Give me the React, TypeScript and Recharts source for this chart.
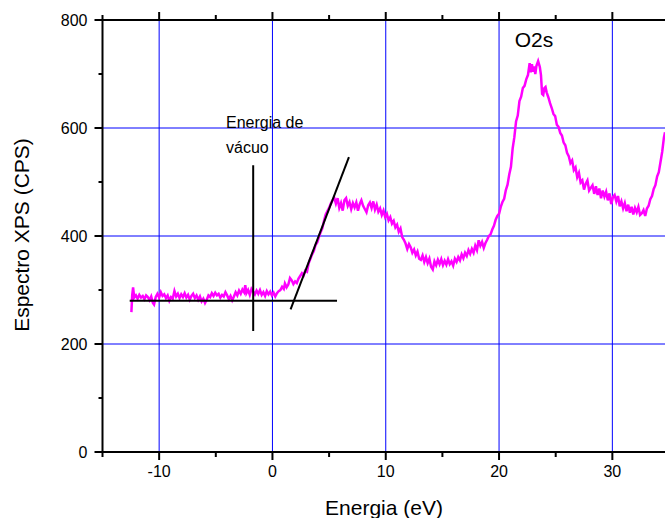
import React from "react"
import { LineChart, Line, XAxis, YAxis, ReferenceLine } from "recharts"

const energy = [
  -12.45, -12.38, -12.3, -12.2, -12.05, -11.9, -11.75, -11.6, -11.45, -11.3, -11.15, -11.0, -10.85, -10.7, -10.55, -10.45,
  -10.3, -10.15, -10.0, -9.85, -9.7, -9.55, -9.4, -9.25, -9.1, -8.95, -8.8, -8.65, -8.5, -8.35, -8.2, -8.05,
  -7.9, -7.75, -7.6, -7.45, -7.3, -7.15, -7.0, -6.85, -6.7, -6.55, -6.4, -6.25, -6.1, -5.95, -5.8, -5.65,
  -5.5, -5.35, -5.2, -5.05, -4.9, -4.75, -4.6, -4.45, -4.3, -4.15, -4.0, -3.85, -3.7, -3.55, -3.4, -3.25,
  -3.1, -2.95, -2.8, -2.65, -2.5, -2.4, -2.3, -2.15, -2.0, -1.85, -1.7, -1.55, -1.4, -1.25, -1.1, -0.95,
  -0.8, -0.65, -0.5, -0.35, -0.2, -0.05, 0.1, 0.25, 0.4, 0.55, 0.7, 0.85, 1.0, 1.1, 1.25, 1.4,
  1.55, 1.7, 1.85, 2.0, 2.15, 2.3, 2.45, 2.6, 2.75, 2.9, 3.05, 3.2, 3.35, 3.5, 3.65, 3.8,
  3.95, 4.1, 4.25, 4.4, 4.55, 4.7, 4.85, 5.0, 5.15, 5.3, 5.45, 5.6, 5.75, 5.9, 6.05, 6.2,
  6.35, 6.5, 6.65, 6.8, 6.95, 7.1, 7.25, 7.4, 7.55, 7.7, 7.85, 8.0, 8.15, 8.3, 8.45, 8.6,
  8.75, 8.9, 9.05, 9.2, 9.35, 9.5, 9.65, 9.8, 9.95, 10.1, 10.25, 10.4, 10.55, 10.7, 10.85, 11.0,
  11.15, 11.3, 11.45, 11.6, 11.75, 11.9, 12.05, 12.2, 12.35, 12.5, 12.65, 12.8, 12.95, 13.1, 13.25, 13.4,
  13.55, 13.7, 13.85, 14.0, 14.15, 14.3, 14.45, 14.6, 14.75, 14.9, 15.05, 15.2, 15.35, 15.5, 15.65, 15.8,
  15.95, 16.1, 16.25, 16.4, 16.55, 16.7, 16.85, 17.0, 17.15, 17.3, 17.45, 17.6, 17.75, 17.9, 18.05, 18.2,
  18.35, 18.5, 18.65, 18.8, 18.95, 19.1, 19.25, 19.4, 19.55, 19.7, 19.85, 20.0, 20.15, 20.3, 20.45, 20.6,
  20.75, 20.9, 21.05, 21.2, 21.35, 21.5, 21.65, 21.8, 21.95, 22.1, 22.25, 22.4, 22.55, 22.7, 22.8, 22.9,
  23.0, 23.1, 23.2, 23.3, 23.45, 23.6, 23.7, 23.8, 23.9, 24.0, 24.1, 24.2, 24.35, 24.5, 24.65, 24.8,
  24.95, 25.1, 25.25, 25.4, 25.55, 25.7, 25.85, 26.0, 26.15, 26.3, 26.45, 26.6, 26.75, 26.9, 27.05, 27.2,
  27.35, 27.5, 27.65, 27.8, 27.95, 28.1, 28.25, 28.4, 28.55, 28.7, 28.85, 29.0, 29.15, 29.3, 29.45, 29.6,
  29.75, 29.9, 30.05, 30.2, 30.35, 30.5, 30.65, 30.8, 30.95, 31.1, 31.25, 31.4, 31.55, 31.7, 31.85, 32.0,
  32.15, 32.3, 32.45, 32.6, 32.75, 32.9, 33.05, 33.2, 33.35, 33.5, 33.65, 33.8, 33.95, 34.1, 34.25, 34.4,
  34.55, 34.65,
]

const cps = [
  259, 290, 305, 286, 290, 284, 291, 286, 289, 283, 290, 287, 281, 288, 276, 273,
  287, 293, 286, 296, 289, 292, 285, 290, 280, 287, 284, 298, 288, 293, 285, 292,
  287, 294, 286, 291, 282, 289, 293, 285, 290, 282, 288, 279, 284, 276, 282, 290,
  287, 294, 289, 295, 290, 293, 286, 291, 288, 296, 290, 283, 289, 281, 288, 296,
  290, 299, 293, 301, 296, 309, 294, 300, 291, 302, 297, 292, 299, 293, 300, 291,
  296, 289, 298, 292, 297, 290, 295, 288, 294, 298, 300, 306, 302, 312, 305, 310,
  322, 318, 311, 316, 313, 321, 326, 331, 327, 336, 334, 350, 358, 366, 372, 383,
  388, 398, 407, 414, 428, 440, 446, 452, 460, 466, 471, 460, 470, 452, 461, 447,
  466, 470, 456, 463, 450, 461, 453, 462, 447, 459, 466, 456, 450, 444, 457, 462,
  452, 464, 449, 458, 445, 451, 439, 447, 435, 441, 429, 435, 423, 428, 416, 421,
  408, 414, 398, 393, 386, 376, 385, 379, 369, 375, 364, 371, 358, 356, 364, 352,
  361, 350, 358, 343, 338, 353, 346, 356, 348, 357, 346, 354, 347, 357, 348, 353,
  345, 358, 352, 361, 355, 366, 359, 369, 363, 374, 367, 376, 369, 382, 374, 392,
  382, 389, 378, 387, 393, 400, 403, 412, 419, 430, 437, 441, 454, 463, 469, 485,
  495, 514, 528, 562, 583, 612, 623, 650, 658, 674, 678, 690, 698, 720, 703, 718,
  704, 714, 700, 715, 724, 713, 698, 663, 661, 674, 676, 666, 657, 646, 637, 626,
  622, 606, 602, 591, 586, 573, 568, 554, 548, 535, 540, 522, 527, 509, 517, 499,
  503, 486, 497, 503, 484, 489, 494, 478, 492, 476, 488, 470, 484, 473, 482, 466,
  479, 459, 472, 476, 464, 474, 455, 464, 451, 461, 446, 458, 443, 454, 440, 452,
  444, 454, 439, 442, 448, 437, 451, 456, 468, 474, 487, 494, 510, 518, 537, 556,
  582, 592,
]

// hand-drawn guide lines
const baseline = [
  { x: -12.6, y: 280 },
  { x: 5.7, y: 280 },
]
const vacuumMark = [
  { x: -1.7, y: 224 },
  { x: -1.7, y: 531 },
]
const edgeTangent = [
  { x: 1.6, y: 264 },
  { x: 6.75, y: 546 },
]

const xTicks = [-15, -10, -5, 0, 5, 10, 15, 20, 25, 30, 35]
const yTicks = [0, 100, 200, 300, 400, 500, 600, 700, 800]
const xGrid = [-10, 0, 10, 20, 30]
const yGrid = [200, 400, 600]

const spectrum = energy.map((x, i) => ({ x, y: cps[i] }))

const FONT = "'Liberation Sans', Arial, sans-serif"

function BottomTick({ x, y, payload }: any) {
  const major = payload.value % 10 === 0
  return (
    <g>
      <line x1={x} y1={y} x2={x} y2={y + (major ? 8 : 5)} stroke="#000" strokeWidth={2} />
      {major && (
        <text x={x} y={y + 25} textAnchor="middle" fontSize={16} fontFamily={FONT} fill="#000">
          {payload.value}
        </text>
      )}
    </g>
  )
}

function TopTick({ x, y, payload }: any) {
  const major = payload.value % 10 === 0
  return <line x1={x} y1={y} x2={x} y2={y - (major ? 8 : 5)} stroke="#000" strokeWidth={2} />
}

function LeftTick({ x, y, payload }: any) {
  const major = payload.value % 200 === 0
  return (
    <g>
      <line x1={x - (major ? 8 : 4)} y1={y} x2={x} y2={y} stroke="#000" strokeWidth={2} />
      {major && (
        <text x={x - 15} y={y + 6} textAnchor="end" fontSize={16} fontFamily={FONT} fill="#000">
          {payload.value}
        </text>
      )}
    </g>
  )
}

export default function App() {
  return (
    <div
      style={{
        position: "absolute",
        left: 0,
        top: 0,
        width: 665,
        height: 518,
        overflow: "hidden",
        background: "#fff",
        fontFamily: FONT,
      }}
    >
      <LineChart width={669} height={518} margin={{ top: 0, right: 0, bottom: 0, left: 0 }}>
        <XAxis
          dataKey="x"
          type="number"
          domain={[-15, 35]}
          ticks={xTicks}
          interval={0}
          allowDataOverflow
          height={66}
          tickSize={0}
          tickMargin={0}
          tickLine={false}
          tick={<BottomTick />}
          axisLine={{ stroke: "#000", strokeWidth: 2 }}
        />
        <XAxis
          xAxisId="top"
          orientation="top"
          dataKey="x"
          type="number"
          domain={[-15, 35]}
          ticks={xTicks}
          interval={0}
          allowDataOverflow
          height={20}
          tickSize={0}
          tickMargin={0}
          tickLine={false}
          tick={<TopTick />}
          axisLine={{ stroke: "#000", strokeWidth: 2 }}
        />
        <YAxis
          type="number"
          domain={[0, 800]}
          ticks={yTicks}
          interval={0}
          allowDataOverflow
          width={102.5}
          tickSize={0}
          tickMargin={0}
          tickLine={false}
          tick={<LeftTick />}
          axisLine={{ stroke: "#000", strokeWidth: 2 }}
        />
        {xGrid.map((v) => (
          <ReferenceLine key={"gx" + v} x={v} stroke="#0000ff" strokeWidth={1} />
        ))}
        {yGrid.map((v) => (
          <ReferenceLine key={"gy" + v} y={v} stroke="#0000ff" strokeWidth={1} />
        ))}
        <Line
          data={spectrum}
          dataKey="y"
          type="linear"
          stroke="#ff00ff"
          strokeWidth={2.5}
          dot={false}
          isAnimationActive={false}
        />
        <Line data={baseline} dataKey="y" stroke="#000" strokeWidth={2} dot={false} isAnimationActive={false} />
        <Line data={vacuumMark} dataKey="y" stroke="#000" strokeWidth={2} dot={false} isAnimationActive={false} />
        <Line data={edgeTangent} dataKey="y" stroke="#000" strokeWidth={2} dot={false} isAnimationActive={false} />
      </LineChart>
      <svg
        width={665}
        height={518}
        style={{ position: "absolute", left: 0, top: 0, pointerEvents: "none" }}
      >
        <text x={384} y={515} textAnchor="middle" fontSize={21} fontFamily={FONT} fill="#000">
          Energia (eV)
        </text>
        <text
          x={29}
          y={235}
          transform="rotate(-90 29 235)"
          textAnchor="middle"
          fontSize={21}
          fontFamily={FONT}
          fill="#000"
        >
          Espectro XPS (CPS)
        </text>
        <text x={534} y={47} textAnchor="middle" fontSize={21} fontFamily={FONT} fill="#000">
          O2s
        </text>
        <text x={226} y={128} fontSize={16} fontFamily={FONT} fill="#000">
          Energia de
        </text>
        <text x={226} y={153} fontSize={16} fontFamily={FONT} fill="#000">
          vácuo
        </text>
      </svg>
    </div>
  )
}
